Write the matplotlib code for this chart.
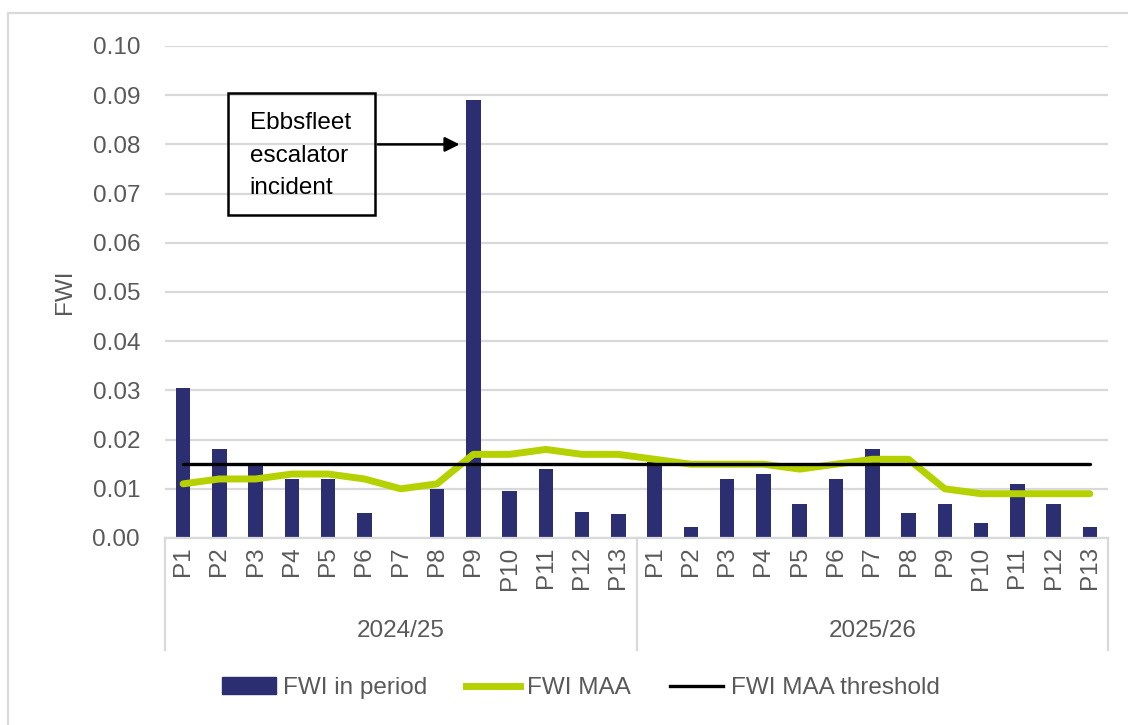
import numpy as np
import matplotlib
matplotlib.use('Agg')
import matplotlib.pyplot as plt
from matplotlib.patches import Rectangle
from matplotlib.lines import Line2D

plt.rcParams['font.family'] = ['Liberation Sans', 'DejaVu Sans']

## DATA
years = ['2024/25', '2025/26']
periods = ['P1', 'P2', 'P3', 'P4', 'P5', 'P6', 'P7', 'P8', 'P9', 'P10', 'P11', 'P12', 'P13']
fwi_period = [0.0305, 0.018, 0.015, 0.012, 0.012, 0.005, 0.0, 0.0099, 0.089, 0.0095, 0.014, 0.0052, 0.0048,
              0.0155, 0.0022, 0.012, 0.013, 0.007, 0.012, 0.018, 0.005, 0.007, 0.003, 0.011, 0.007, 0.0022]
fwi_maa = [0.011, 0.012, 0.012, 0.013, 0.013, 0.012, 0.010, 0.011, 0.017, 0.017, 0.018, 0.017, 0.017,
           0.016, 0.015, 0.015, 0.015, 0.014, 0.015, 0.016, 0.016, 0.010, 0.009, 0.009, 0.009, 0.009]
maa_threshold = [0.015] * 26
note_text = 'Ebbsfleet\nescalator\nincident'
note_value = 0.080

labels = periods * len(years)
x = np.arange(len(labels))

navy = '#2b2f72'
green = '#b5d100'
grey_txt = '#595959'
grid_col = '#d9d9d9'
fs = 17.5

fig = plt.figure(figsize=(11.28, 7.25), dpi=100)
ax = fig.add_axes([165 / 1128, 187 / 725, 943 / 1128, 492 / 725])

# outer chart border
fig.patches.append(Rectangle((8 / 1128, -0.1), 1.2, 1 - 13 / 725 + 0.1, transform=fig.transFigure,
                             fill=False, edgecolor=grid_col, linewidth=1.6))

ax.bar(x, fwi_period, width=0.4, color=navy, zorder=2, label='FWI in period')
ax.plot(x, fwi_maa, color=green, linewidth=5, solid_capstyle='round', zorder=3, label='FWI MAA')
ax.plot(x, maa_threshold, color='black', linewidth=2.4, solid_capstyle='round', zorder=4,
        label='FWI MAA threshold')

ax.set_xlim(-0.5, len(labels) - 0.5)
ax.set_ylim(0, 0.10)
ax.set_yticks(np.arange(0, 0.101, 0.01))
ax.set_yticklabels(['%.2f' % v for v in np.arange(0, 0.101, 0.01)])
ax.yaxis.grid(True, color=grid_col, linewidth=1.6, zorder=0)
ax.set_axisbelow(True)
for s in ['top', 'right', 'left']:
    ax.spines[s].set_visible(False)
ax.spines['bottom'].set_color(grid_col)
ax.spines['bottom'].set_linewidth(1.6)

ax.set_xticks(x)
ax.set_xticklabels(labels, rotation=90, va='top')
ax.tick_params(axis='x', length=0, pad=6, labelsize=fs, labelcolor=grey_txt)
ax.tick_params(axis='y', length=0, pad=18, labelsize=fs, labelcolor=grey_txt)
ax.set_ylabel('FWI', fontsize=fs, color=grey_txt, labelpad=12)

# year group labels and separators under the axis
trans = ax.get_xaxis_transform()
n = len(periods)
for i, yr in enumerate(years):
    ax.text(i * n + (n - 1) / 2, -0.19, yr, transform=trans, ha='center', va='center',
            fontsize=fs, color=grey_txt)
for xs in [-0.5 + i * n for i in range(len(years) + 1)]:
    ax.plot([xs, xs], [0, -0.228], transform=trans, color=grid_col, linewidth=1.6, clip_on=False)

# annotation box and arrow
ax.add_patch(Rectangle((1.24, 0.0657), 4.05, 0.0247, fill=False, edgecolor='black',
                       linewidth=1.8, zorder=5))
ax.text(1.84, 0.0865, note_text, fontsize=fs, color='black', va='top', ha='left',
        linespacing=1.6, zorder=6)
ax.annotate('', xy=(7.7, note_value), xytext=(5.29, note_value),
            arrowprops=dict(arrowstyle='-|>', color='black', lw=1.8, mutation_scale=22), zorder=6)

handles = [Rectangle((0, 0), 1, 1, color=navy),
           Line2D([], [], color=green, linewidth=5),
           Line2D([], [], color='black', linewidth=2.4)]
fig.legend(handles, ['FWI in period', 'FWI MAA', 'FWI MAA threshold'], loc='center',
           bbox_to_anchor=(0.515, 37 / 725), ncol=3, frameon=False, fontsize=fs,
           labelcolor=grey_txt, handlelength=2.2, handletextpad=0.3, columnspacing=1.6)

fig.savefig('out.png', dpi=100)
